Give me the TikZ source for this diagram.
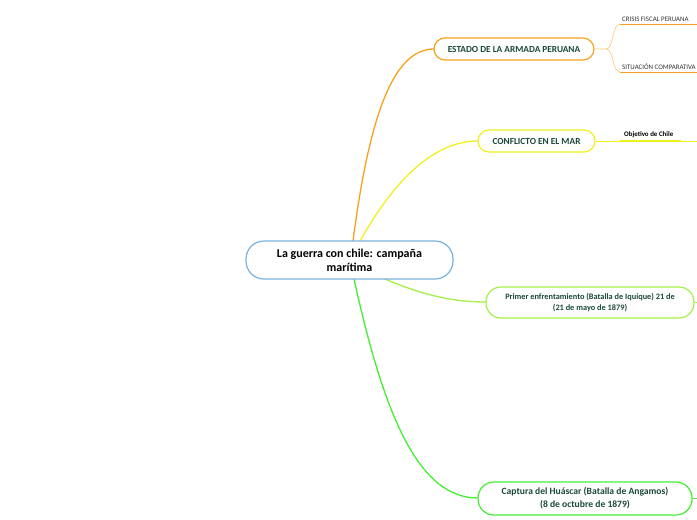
\documentclass[tikz,border=0pt]{standalone}
\usepackage{fontspec}
\setmainfont{Carlito}
\definecolor{cblue}{HTML}{7AB2DE}
\definecolor{corange}{HTML}{F7A21E}
\definecolor{corangel}{HTML}{F9C77A}
\definecolor{cyellow}{HTML}{F0F01E}
\definecolor{clime}{HTML}{A4F04A}
\definecolor{cgreen}{HTML}{46EE34}
\definecolor{ctext}{HTML}{1B4A3A}
\begin{document}
\begin{tikzpicture}[x=1pt,y=-1pt,
  topic/.style={draw, line width=1.2pt, rounded corners=11pt, fill=white, text=ctext, font=\bfseries\fontsize{9.3}{10.5}\selectfont, align=center, inner sep=0pt, minimum height=22pt},
  link/.style={line width=1.3pt},
  sub/.style={font=\fontsize{6.9}{7.5}\selectfont, text=black!80, anchor=south west, inner sep=1pt}]
\useasboundingbox (0,0) rectangle (697,520);
% connectors from center
\draw[link, corange] (353,241) .. controls (370,110) and (395,49) .. (434,49);
\draw[link, cyellow] (360,241) .. controls (400,170) and (440,141) .. (478,141);
\draw[link, clime] (385,279) .. controls (425,296) and (455,302) .. (486,302);
\draw[link, cgreen] (354,279) .. controls (385,420) and (420,498) .. (478,498);
% central
\node[draw=cblue, line width=1.2pt, rounded corners=18pt, fill=white, minimum width=207pt, minimum height=38pt, inner sep=0pt, align=center, font=\bfseries\fontsize{12}{14}\selectfont, text=black] (c) at (349.5,260) {La guerra con chile: campaña\\marítima};
% topics
\node[topic, draw=corange, minimum width=160pt] (e) at (514,49) {ESTADO DE LA ARMADA PERUANA};
\node[topic, draw=cyellow, minimum width=117pt] (m) at (536.5,141) {CONFLICTO EN EL MAR};
\node[topic, draw=clime, minimum width=208pt, minimum height=31pt, rounded corners=15pt, font=\bfseries\fontsize{8.3}{11}\selectfont] (p) at (590,302.5) {Primer enfrentamiento (Batalla de Iquique) 21 de\\(21 de mayo de 1879)};
\node[topic, draw=cgreen, minimum width=214pt, minimum height=33pt, rounded corners=16pt, font=\bfseries\fontsize{9.6}{13}\selectfont] (h) at (585,498.5) {Captura del Huáscar (Batalla de Angamos)\\(8 de octubre de 1879)};
% sub-branches of estado
\coordinate (s1) at (620,24);
\coordinate (s2) at (620,72);
\coordinate (s1e) at (697,24);
\coordinate (s2e) at (697,72);
\draw[corangel, line width=0.6pt] (e.east) -- (606,49) .. controls (614,49) and (612,24) .. (s1);
\draw[corangel, line width=0.6pt] (606,49) .. controls (614,49) and (612,72) .. (s2);
\draw[corange, line width=1pt] (s1) -- (s1e);
\draw[corange, line width=1pt] (s2) -- (s2e);
\node[sub] (t1) at (621,23) {CRISIS FISCAL PERUANA};
\node[sub] (t2) at (621,71) {SITUACIÓN COMPARATIVA};
% conflicto
\coordinate (o1) at (620,141);
\coordinate (o2) at (681,141);
\coordinate (oe) at (697,141);
\draw[cyellow, line width=0.6pt] (m.east) -- (oe);
\draw[cyellow, line width=1.2pt] (o1) -- (o2);
\node[sub, font=\bfseries\fontsize{6.9}{7.5}\selectfont, text=black] (t3) at (623,139) {Objetivo de Chile};
% stubs
\coordinate (pe) at (697,302.5);
\coordinate (he) at (697,498.5);
\draw[clime, line width=0.6pt] (p.east) -- (pe);
\draw[cgreen, line width=0.6pt] (h.east) -- (he);
\end{tikzpicture}
\end{document}
